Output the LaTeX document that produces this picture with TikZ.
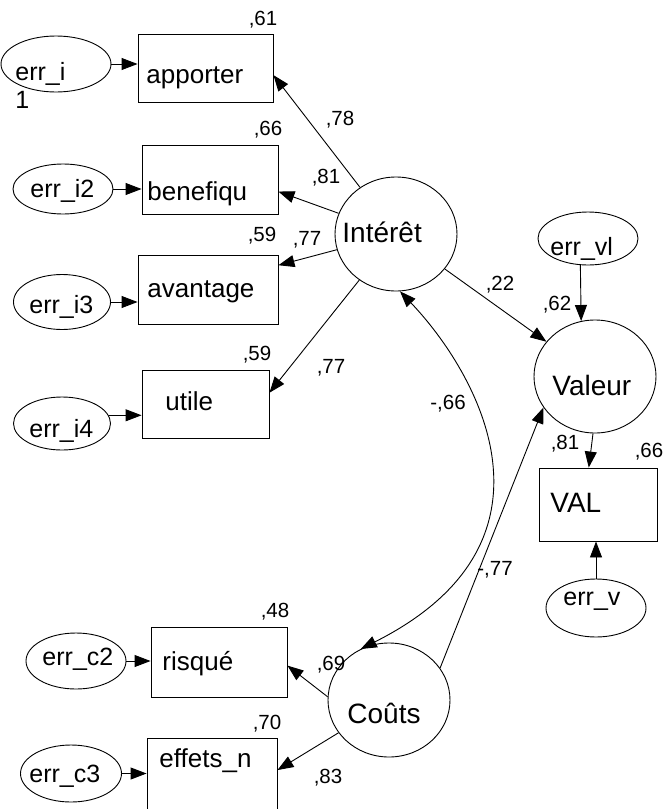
\documentclass[tikz,border=0pt]{standalone}
\usepackage{fontspec}
\setmainfont{Liberation Sans}
\usetikzlibrary{arrows.meta,shapes.geometric}

\begin{document}
\begin{tikzpicture}[x=1pt, y=-1pt, line width=0.9pt,
		obs/.style={draw, rectangle, inner sep=0pt},
		lat/.style={draw, ellipse, inner sep=0pt, minimum width=122pt, minimum height=114pt},
		err/.style={draw, ellipse, inner sep=0pt},
		txt/.style={inner sep=0pt, anchor=base west, font=\fontsize{26}{28}\selectfont},
		bigtxt/.style={inner sep=0pt, anchor=base west, font=\fontsize{28}{30}\selectfont},
		errtxt/.style={inner sep=0pt, anchor=base west, font=\fontsize{25}{28}\selectfont},
		coef/.style={inner sep=0pt, font=\fontsize{20.5}{22}\selectfont},
		reg/.style={-{Triangle[length=16pt,width=12pt]}},
		cov/.style={{Triangle[length=16pt,width=12pt]}-{Triangle[length=16pt,width=12pt]}}]
			%%%%% START %%%%%
			
			\useasboundingbox (0,0) rectangle (664,809);
			
			% latent variables
			\node[lat] (interet) at (396,234) {};
			\node[lat, minimum height=113pt] (valeur) at (595,376.5) {};
			\node[lat] (couts) at (389,700) {};
			\node[bigtxt] (interet-t) at (342,242) {Intérêt};
			\node[bigtxt] (valeur-t) at (552,395) {Valeur};
			\node[bigtxt] (couts-t) at (347,723) {Coûts};
			
			% observed variables
			\node[obs, minimum width=135pt, minimum height=68pt] (apporter) at (205.5,68) {};
			\node[obs, minimum width=136pt, minimum height=69pt] (benefiqu) at (210,179.5) {};
			\node[obs, minimum width=140pt, minimum height=69pt] (avantage) at (208,289.5) {};
			\node[obs, minimum width=127pt, minimum height=68pt] (utile) at (205.5,404) {};
			\node[obs, minimum width=118pt, minimum height=73pt] (VAL) at (598,504.5) {};
			\node[obs, minimum width=136pt, minimum height=70pt] (risque) at (219,662) {};
			\node[obs, minimum width=130pt, minimum height=71pt] (effets) at (212,773.5) {};
			\node[txt] (apporter-t) at (146,83) {apporter};
			\node[txt] (benefiqu-t) at (147,200) {benefiqu};
			\node[txt] (avantage-t) at (147,297) {avantage};
			\node[txt] (utile-t) at (165,410) {utile};
			\node[bigtxt] (VAL-t) at (550,512) {VAL};
			\node[txt] (risque-t) at (162,670) {risqué};
			\node[txt] (effets-t) at (159,767) {effets\_n};
			
			% error terms
			\node[err, minimum width=110pt, minimum height=56pt] (erri) at (56,64) {};
			\node[err, minimum width=100pt, minimum height=50pt] (erri2) at (63,189) {};
			\node[err, minimum width=97pt, minimum height=55pt] (erri3) at (62,302) {};
			\node[err, minimum width=97pt, minimum height=53pt] (erri4) at (62,423.5) {};
			\node[err, minimum width=100pt, minimum height=53pt] (errvl) at (588,238.5) {};
			\node[err, minimum width=100pt, minimum height=58pt] (errv) at (596,608) {};
			\node[err, minimum width=100pt, minimum height=56pt] (errc2) at (76,661) {};
			\node[err, minimum width=101pt, minimum height=57pt] (errc3) at (71,773.5) {};
			\node[errtxt, align=left] (erri-t) at (15,108) {err\_i\\1};
			\node[errtxt] (erri2-t) at (30,197) {err\_i2};
			\node[errtxt] (erri3-t) at (29,313) {err\_i3};
			\node[errtxt] (erri4-t) at (29,437) {err\_i4};
			\node[errtxt] (errvl-t) at (550,255) {err\_vl};
			\node[errtxt] (errv-t) at (563,605) {err\_v};
			\node[errtxt] (errc2-t) at (42,665) {err\_c2};
			\node[errtxt] (errc3-t) at (29,782) {err\_c3};
			
			% paths
			\draw[reg] (interet) -- (apporter.-6);
			\draw[reg] (interet) -- (benefiqu.-10);
			\draw[reg] (interet) -- (avantage.19);
			\draw[reg] (interet) -- (utile.10);
			\draw[reg] (interet) -- (valeur);
			\draw[reg] (errvl.-106) -- (valeur.104);
			\draw[reg] (valeur.-92) -- (VAL.104);
			\draw[reg] (errv) -- (errv |- VAL.south);
			\draw[reg] (couts.32) -- (valeur.211);
			\draw[reg] (couts.177) -- (risque.-3);
			\draw[reg] (couts.213) -- (effets.3);
			\draw[cov] (interet.-86) .. controls +(78,82) and +(213,-107) .. (couts.119);
			
			\draw[reg] (erri) -- (erri -| apporter.west);
			\draw[reg] (erri2) -- (erri2 -| benefiqu.west);
			\draw[reg] (erri3) -- (erri3 -| avantage.west);
			\draw[reg] (erri4.10) -- (erri4.10 -| utile.west);
			\draw[reg] (errc2) -- (errc2 -| risque.west);
			\draw[reg] (errc3) -- (errc3 -| effets.west);
			
			% estimates
			\node[coef] (r-apporter) at (263,20) {,61};
			\node[coef] (w-apporter) at (340,120) {,78};
			\node[coef] (r-benefiqu) at (268,130) {,66};
			\node[coef] (w-benefiqu) at (326,178) {,81};
			\node[coef] (r-avantage) at (262,236) {,59};
			\node[coef] (w-avantage) at (307,240) {,77};
			\node[coef] (r-utile) at (257,355) {,59};
			\node[coef] (w-utile) at (331,368) {,77};
			\node[coef] (w-valeur) at (500,285) {,22};
			\node[coef] (r-valeur) at (557,305) {,62};
			\node[coef] (c-interet) at (448,404) {-,66};
			\node[coef] (w-VAL) at (565,444) {,81};
			\node[coef] (r-VAL) at (649,452) {,66};
			\node[coef] (w-couts) at (495,570) {-,77};
			\node[coef] (r-risque) at (275,612) {,48};
			\node[coef] (w-risque) at (331,665) {,69};
			\node[coef] (r-effets) at (267,724) {,70};
			\node[coef] (w-effets) at (328,778) {,83};
			
			%%%%% END %%%%%
\end{tikzpicture}
\end{document}
